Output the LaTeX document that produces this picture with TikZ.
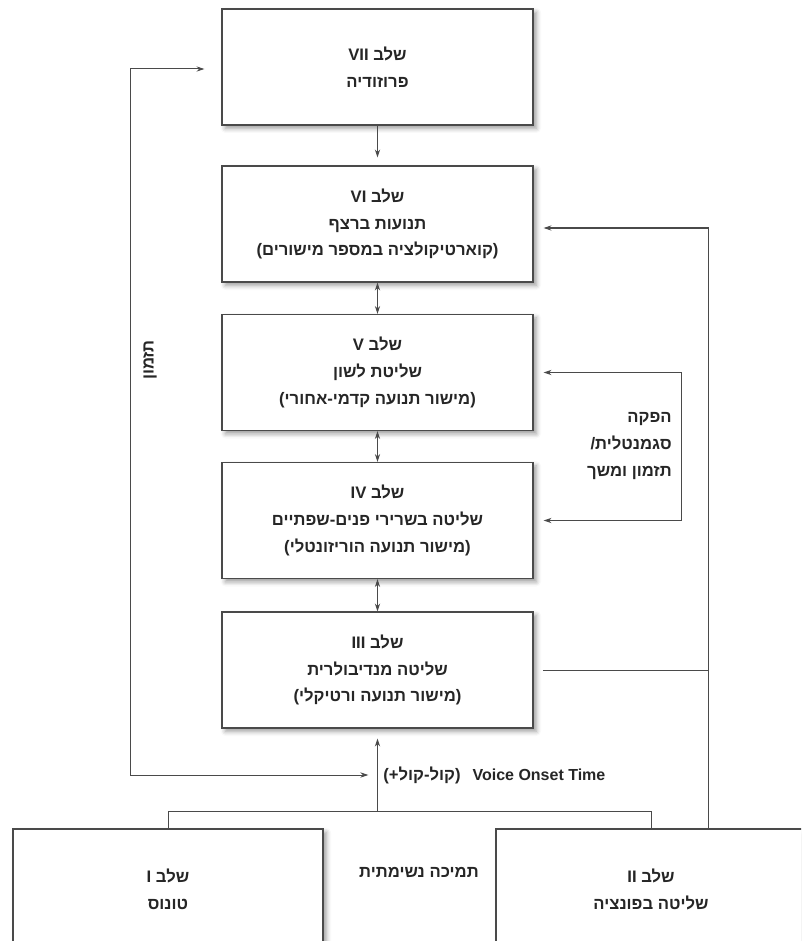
\documentclass[tikz,border=0pt]{standalone}
\usepackage{fontspec}
\usetikzlibrary{arrows.meta,shadows.blur}
\newfontfamily\hebfont{Liberation Sans}[Script=Hebrew,HyphenChar=None]
\newfontfamily\latfont{Liberation Sans}
\TeXXeTstate=1
\newcommand{\heb}[1]{\beginR #1\endR}
\newcommand{\lat}[1]{{\latfont #1}}
\definecolor{linegray}{HTML}{4A4A4A}
\definecolor{textgray}{HTML}{262626}

\begin{document}
\begin{tikzpicture}[x=0.75pt,y=-0.75pt,>={Stealth[length=6pt,width=4pt]}]
	\tikzstyle{stage}=[draw=linegray,line width=0.9pt,fill=white,minimum width=233.25pt,minimum height=87pt,inner sep=0pt,align=center,text=textgray,font={\hebfont\bfseries\fontsize{12.5pt}{20pt}\selectfont},blur shadow={shadow xshift=2.5pt,shadow yshift=-2.5pt,shadow blur radius=3.5pt,shadow opacity=40}]
	\tikzstyle{lbl}=[inner sep=0pt,text=textgray,font={\hebfont\bfseries\fontsize{12.5pt}{20pt}\selectfont}]
	\tikzstyle{conn}=[draw=linegray,line width=0.75pt]
	\clip (0,0) rectangle (801,941);
	\node[stage] (vii) at (377.5,67) {\heb{שלב \beginL VII\endL}\\\heb{פרוזודיה}};
	\node[stage] (vi) at (377.5,224) {\heb{שלב \beginL VI\endL}\\\heb{תנועות ברצף}\\\lat{(}\heb{קוארטיקולציה במספר מישורים}\lat{)}};
	\node[stage] (v) at (377.5,372.5) {\heb{שלב \beginL V\endL}\\\heb{שליטת לשון}\\\lat{(}\heb{מישור תנועה קדמי-אחורי}\lat{)}};
	\node[stage] (iv) at (377.5,520.5) {\heb{שלב \beginL IV\endL}\\\heb{שליטה בשרירי פנים-שפתיים}\\\lat{(}\heb{מישור תנועה הוריזונטלי}\lat{)}};
	\node[stage] (iii) at (377.5,670) {\heb{שלב \beginL III\endL}\\\heb{שליטה מנדיבולרית}\\\lat{(}\heb{מישור תנועה ורטיקלי}\lat{)}};
	\node[stage,minimum width=232.5pt,minimum height=90.75pt] (i) at (168,889.5) {\heb{שלב \beginL I\endL}\\\heb{טונוס}};
	\node[stage,minimum width=232.5pt,minimum height=90.75pt] (ii) at (651,889.5) {\heb{שלב \beginL II\endL}\\\heb{שליטה בפונציה}};
	\node[lbl] (breath) at (419,872) {\heb{תמיכה נשימתית}};
	\node[lbl,align=right,anchor=east] (seglbl) at (672,446) {\heb{הפקה}\\\lat{/}\heb{סגמנטלית}\\\heb{תזמון ומשך}};
	\node[lbl,rotate=90] (tzm) at (150,360) {\heb{תזמון}};
	\node[lbl,anchor=west] (vot) at (383,775) {\lat{(+}\heb{קול-קול}\lat{)}\hspace{9pt}\lat{\fontsize{12pt}{14pt}\selectfont Voice Onset Time}};
	\coordinate (bus) at (377.5,811);
	\coordinate (rline) at (708,228);
	\coordinate (seg) at (681,446);
	\coordinate (lloop) at (130,69);
	\draw[conn,->,shorten >=6pt] (vii.south) -- (vi.north);
	\draw[conn,<->] (vi.south) -- (v.north);
	\draw[conn,<->] (v.south) -- (iv.north);
	\draw[conn,<->] (iv.south) -- (iii.north);
	\draw[conn] (i.north) |- (bus) -| (ii.north);
	\draw[conn,->,shorten >=7.5pt] (bus) -- (iii.south);
	\draw[conn,->,shorten >=7.5pt] (ii.north -| rline) -- (rline) -- (rline -| vi.east);
	\draw[conn] ([xshift=7pt]iii.east) -- (iii.east -| rline);
	\draw[conn,->,shorten >=7.5pt] (seg) |- (v.east);
	\draw[conn,->,shorten >=7.5pt] (seg) |- (iv.east);
	\draw[conn,<->,shorten <=12.75pt,shorten >=11pt] (vii.west |- lloop) -- (lloop) |- (vot.west);
\end{tikzpicture}
\end{document}
